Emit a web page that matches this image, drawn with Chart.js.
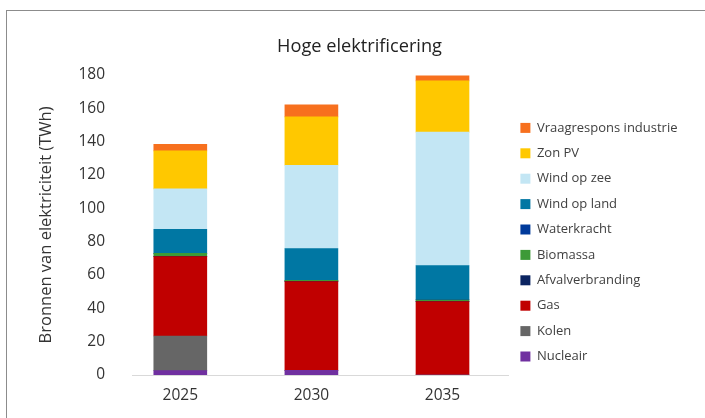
<!DOCTYPE html>
<html>
<head>
<meta charset="utf-8">
<script src="https://cdn.jsdelivr.net/npm/chart.js@4"></script>
<style>
  html, body { margin: 0; padding: 0; background: #fff; }
  body { width: 705px; height: 418px; position: relative; overflow: hidden; }
  #frame {
    position: absolute; left: 6px; top: 10px; width: 699px; height: 408px;
    border-top: 1px solid #8c8c8c; border-left: 1px solid #8c8c8c;
  }
  #wrap { position: absolute; left: 0; top: 0; width: 699px; height: 408px; }
</style>
</head>
<body>
<div id="frame"><div id="wrap"><canvas id="myChart"></canvas></div></div>
<script>
const jaren = [2025, 2030, 2035];

// TWh per bron, onderaan beginnen
const nucleair = [2.6, 2.8, 0];
const kolen = [20.8, 0, 0];
const gas = [47.6, 53.2, 44];
const afvalverbranding = [0.2, 0.2, 0.2];
const biomassa = [1.7, 0.5, 0.8];
const waterkracht = [0.1, 0.1, 0.1];
const windOpLand = [14.4, 19, 20.5];
const windOpZee = [24.2, 50, 80];
const zonPV = [22.8, 29, 30.8];
const vraagrespons = [4, 7.2, 3];

const yTicks = [0, 20, 40, 60, 80, 100, 120, 140, 160, 180];

const bronnen = [
    { label: 'Nucleair', data: nucleair, kleur: '#7030a0' },
    { label: 'Kolen', data: kolen, kleur: '#666666' },
    { label: 'Gas', data: gas, kleur: '#c00000' },
    { label: 'Afvalverbranding', data: afvalverbranding, kleur: '#0b2461' },
    { label: 'Biomassa', data: biomassa, kleur: '#3d9a37' },
    { label: 'Waterkracht', data: waterkracht, kleur: '#003a9b' },
    { label: 'Wind op land', data: windOpLand, kleur: '#0077a3' },
    { label: 'Wind op zee', data: windOpZee, kleur: '#c3e6f4' },
    { label: 'Zon PV', data: zonPV, kleur: '#ffc800' },
    { label: 'Vraagrespons industrie', data: vraagrespons, kleur: '#f7701e' }
];

const datasets = bronnen.map(b => ({
    label: b.label,
    data: b.data,
    backgroundColor: b.kleur,
    borderWidth: 0,
    barThickness: 53
}));

// legenda een vaste breedte geven zodat het plotvlak niet meeschuift
const legendaBreedte = {
    id: 'legendaBreedte',
    beforeLayout(chart) {
        const lg = chart.legend;
        if (lg && !lg._vast) {
            const fit = lg.fit.bind(lg);
            lg.fit = function () {
                fit();
                this.width = 198;
            };
            lg._vast = true;
        }
    }
};

Chart.defaults.font.family = '"Open Sans", Lato, sans-serif';
Chart.defaults.color = '#333';

const config = {
    type: 'bar',
    data: { labels: jaren, datasets },
    plugins: [legendaBreedte],
    options: {
        responsive: true,
        maintainAspectRatio: false,
        animation: false,
        layout: { padding: { left: 6, right: 0, top: 0, bottom: 0 } },
        plugins: {
            title: {
                display: true,
                text: 'Hoge elektrificering',
                color: '#222',
                font: { size: 18.2, weight: 'normal' },
                padding: { top: 25, bottom: 17 }
            },
            legend: {
                position: 'right',
                align: 'start',
                reverse: true,
                title: { display: true, text: ' ', font: { size: 12 }, padding: 41.8 },
                labels: {
                    boxWidth: 10,
                    boxHeight: 10,
                    padding: 12.4,
                    color: '#404040',
                    font: { size: 13 }
                }
            },
            tooltip: { enabled: false }
        },
        scales: {
            x: {
                type: 'linear',
                stacked: true,
                offset: false,
                min: 2023.158,
                max: 2037.498,
                afterBuildTicks: axis => { axis.ticks = jaren.map(v => ({ value: v })); },
                grid: { display: false, drawTicks: false },
                border: { display: true, color: '#d9d9d9', width: 1 },
                ticks: { padding: 11, color: '#333', font: { size: 15.5 }, callback: v => String(v) },
                afterFit: axis => { axis.height = 44; }
            },
            y: {
                stacked: true,
                min: 0,
                max: 180,
                afterBuildTicks: axis => { axis.ticks = yTicks.map(v => ({ value: v })); },
                grid: { display: false, drawTicks: false },
                border: { display: false },
                ticks: { padding: 27, color: '#333', font: { size: 15.5 } },
                title: {
                    display: true,
                    text: 'Bronnen van elektriciteit (TWh)',
                    color: '#333',
                    font: { size: 16.5 },
                    padding: { top: 23, bottom: 0 }
                },
                afterFit: axis => { axis.width = 119; }
            }
        }
    }
};

new Chart(document.getElementById('myChart'), config);
</script>
</body>
</html>
